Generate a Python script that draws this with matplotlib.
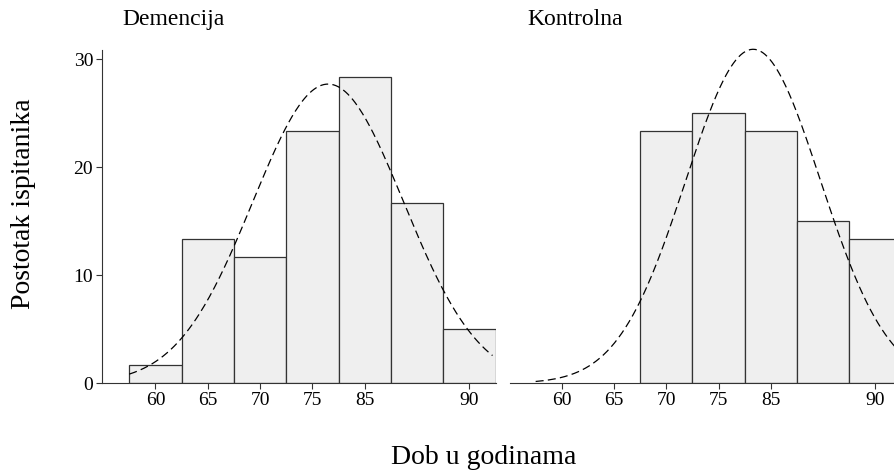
import numpy as np
import matplotlib
matplotlib.use("Agg")
import matplotlib.pyplot as plt

plt.rcParams['font.family'] = ['Liberation Serif', 'DejaVu Serif']

# bin centres (5-year bins) and tick labels as printed on the chart
bin_centers = [60, 65, 70, 75, 80, 85, 90]
tick_pos = [60, 65, 70, 75, 80, 90]
tick_labels = ["60", "65", "70", "75", "85", "90"]

# percentages per bin
demencija = [1.67, 13.33, 11.67, 23.33, 28.33, 16.67, 5.0]
kontrolna = [0, 0, 23.33, 25.0, 23.33, 15.0, 13.33]

# fitted normal curves (mean, sd)
curve_mean = [76.5, 78.3]
curve_sd = [7.2, 6.45]
curve_range = (57.5, 92.2)
bin_width = 5

titles = ["Demencija", "Kontrolna"]


def normal_curve(ax, mu, sd):
    x = np.linspace(curve_range[0], curve_range[1], 300)
    y = 100 * bin_width * np.exp(-0.5 * ((x - mu) / sd) ** 2) / (sd * np.sqrt(2 * np.pi))
    ax.plot(x, y, color='black', lw=0.9, linestyle=(0, (6.4, 3.4)),
            zorder=3, clip_on=False)


fig = plt.figure(figsize=(8.94, 4.72), dpi=100)
ax1 = fig.add_axes([0.1144, 0.1879, 0.440, 0.7062])
ax2 = fig.add_axes([0.5705, 0.1879, 0.438, 0.7062])

for i, (ax, vals) in enumerate([(ax1, demencija), (ax2, kontrolna)]):
    centers = [c for c, v in zip(bin_centers, vals) if v > 0]
    heights = [v for v in vals if v > 0]
    ax.bar(centers, heights, width=bin_width, color='#efefef',
           edgecolor='#333333', linewidth=0.9, zorder=2)
    normal_curve(ax, curve_mean[i], curve_sd[i])
    ax.set_ylim(0, 30.86)
    ax.set_xticks(tick_pos)
    ax.set_xticklabels(tick_labels)
    ax.spines['top'].set_visible(False)
    ax.spines['right'].set_visible(False)
    for sp in ax.spines.values():
        sp.set_color('#333333')
    ax.tick_params(axis='both', labelsize=14, length=4.5, width=0.8, color='#333333', pad=2)

ax1.set_xlim(54.92, 92.5)
ax2.set_xlim(55.05, 92.5)
ax1.set_yticks([0, 10, 20, 30])
ax2.spines['left'].set_visible(False)
ax2.set_yticks([])

fig.text(122 / 894, 0.958, titles[0], fontsize=17, ha='left', va='center')
fig.text(527 / 894, 0.958, titles[1], fontsize=17, ha='left', va='center')

fig.text(0.026, 0.568, 'Postotak ispitanika', rotation=90, fontsize=20,
         ha='center', va='center')
fig.text(0.541, 0.03, 'Dob u godinama', fontsize=20, ha='center', va='center')

fig.savefig('out.png', dpi=100)
